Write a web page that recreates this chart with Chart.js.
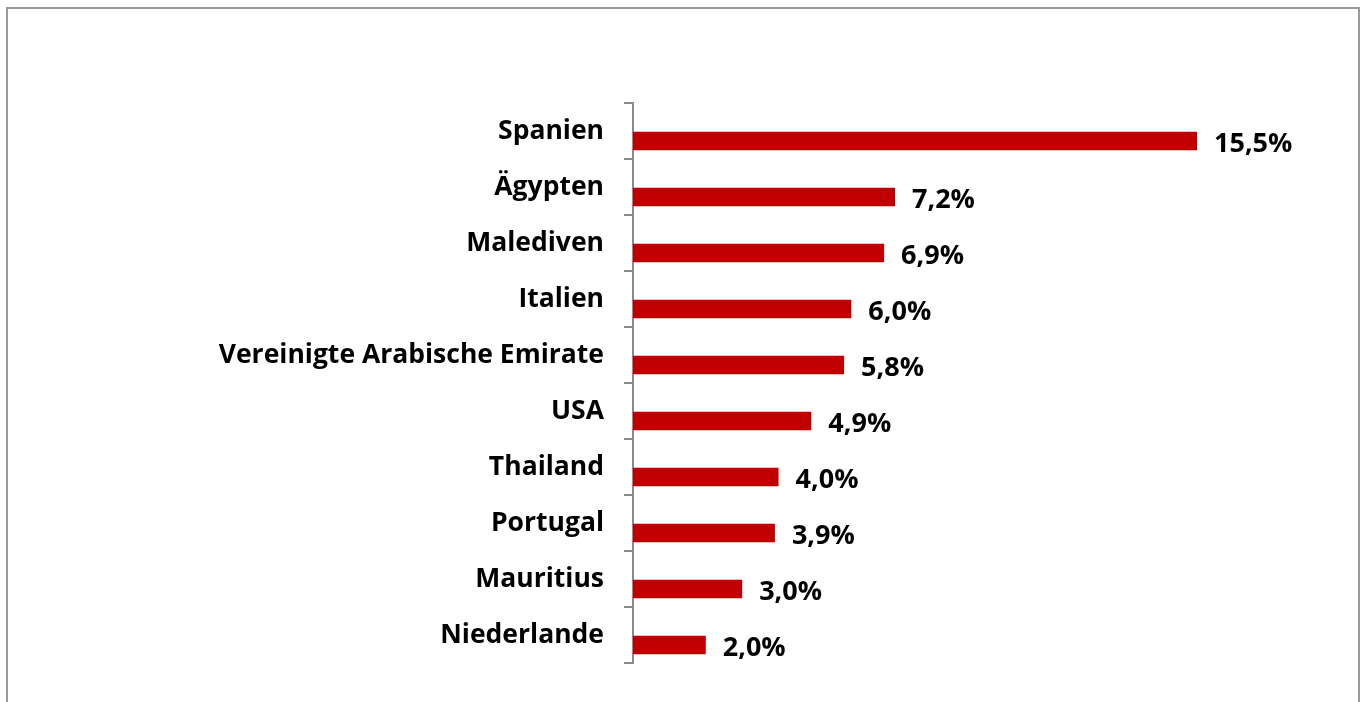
<!DOCTYPE html>
<html>
<head>
<meta charset="utf-8">
<script src="https://cdn.jsdelivr.net/npm/chart.js@4.4.1/dist/chart.umd.min.js"></script>
<style>
    html, body { margin: 0; padding: 0; background: #fff; overflow: hidden; }
    #frame {
        position: absolute; left: 6px; top: 7px; width: 1354px; height: 800px;
        border: 2px solid #9a9a9a; box-sizing: border-box;
    }
    #wrap { position: absolute; left: 0; top: 0; width: 1367px; height: 702px; }
</style>
</head>
<body>
<div id="frame"></div>
<div id="wrap"><canvas id="chart" width="1367" height="702"></canvas></div>
<script>
const countries = [
    'Spanien', 'Ägypten', 'Malediven', 'Italien', 'Vereinigte Arabische Emirate',
    'USA', 'Thailand', 'Portugal', 'Mauritius', 'Niederlande'
];
const shares = [15.5, 7.2, 6.9, 6.0, 5.8, 4.9, 4.0, 3.9, 3.0, 2.0];
const emptySeries = [null, null, null, null, null, null, null, null, null, null];

const fontFamily = '"Open Sans", sans-serif';
const barColor = '#C00000';
const axisColor = '#8c8c8c';

function formatShare(v) {
    return v.toFixed(1).replace('.', ',') + '%';
}

// draws the value labels to the right of each bar
const valueLabels = {
    id: 'valueLabels',
    afterDatasetsDraw(chart) {
        const ctx = chart.ctx;
        const meta = chart.getDatasetMeta(1);
        ctx.save();
        ctx.font = 'bold 27px ' + fontFamily;
        ctx.fillStyle = '#000';
        ctx.textAlign = 'left';
        ctx.textBaseline = 'middle';
        meta.data.forEach((bar, i) => {
            ctx.fillText(formatShare(shares[i]), bar.x + 17, bar.y + 3);
        });
        ctx.restore();
    }
};

new Chart(document.getElementById('chart').getContext('2d'), {
    type: 'bar',
    data: {
        labels: countries,
        datasets: [
            {
                data: emptySeries,
                backgroundColor: barColor,
                categoryPercentage: 0.713,
                barPercentage: 0.935
            },
            {
                data: shares,
                backgroundColor: barColor,
                categoryPercentage: 0.713,
                barPercentage: 0.935
            }
        ]
    },
    options: {
        indexAxis: 'y',
        responsive: false,
        animation: false,
        layout: {
            padding: { top: 103, bottom: 39, left: 0, right: 79 }
        },
        plugins: {
            legend: { display: false },
            tooltip: { enabled: false }
        },
        scales: {
            x: {
                display: false,
                min: 0,
                max: 18
            },
            y: {
                afterFit(scale) {
                    scale.width = 633;
                },
                border: { display: true, color: axisColor, width: 2 },
                grid: {
                    offset: true,
                    drawOnChartArea: false,
                    color: axisColor,
                    lineWidth: 2,
                    tickLength: 9
                },
                ticks: {
                    color: '#000',
                    padding: 20,
                    font: { family: fontFamily, size: 26.5, weight: 'bold' }
                }
            }
        }
    },
    plugins: [valueLabels]
});
</script>
</body>
</html>
